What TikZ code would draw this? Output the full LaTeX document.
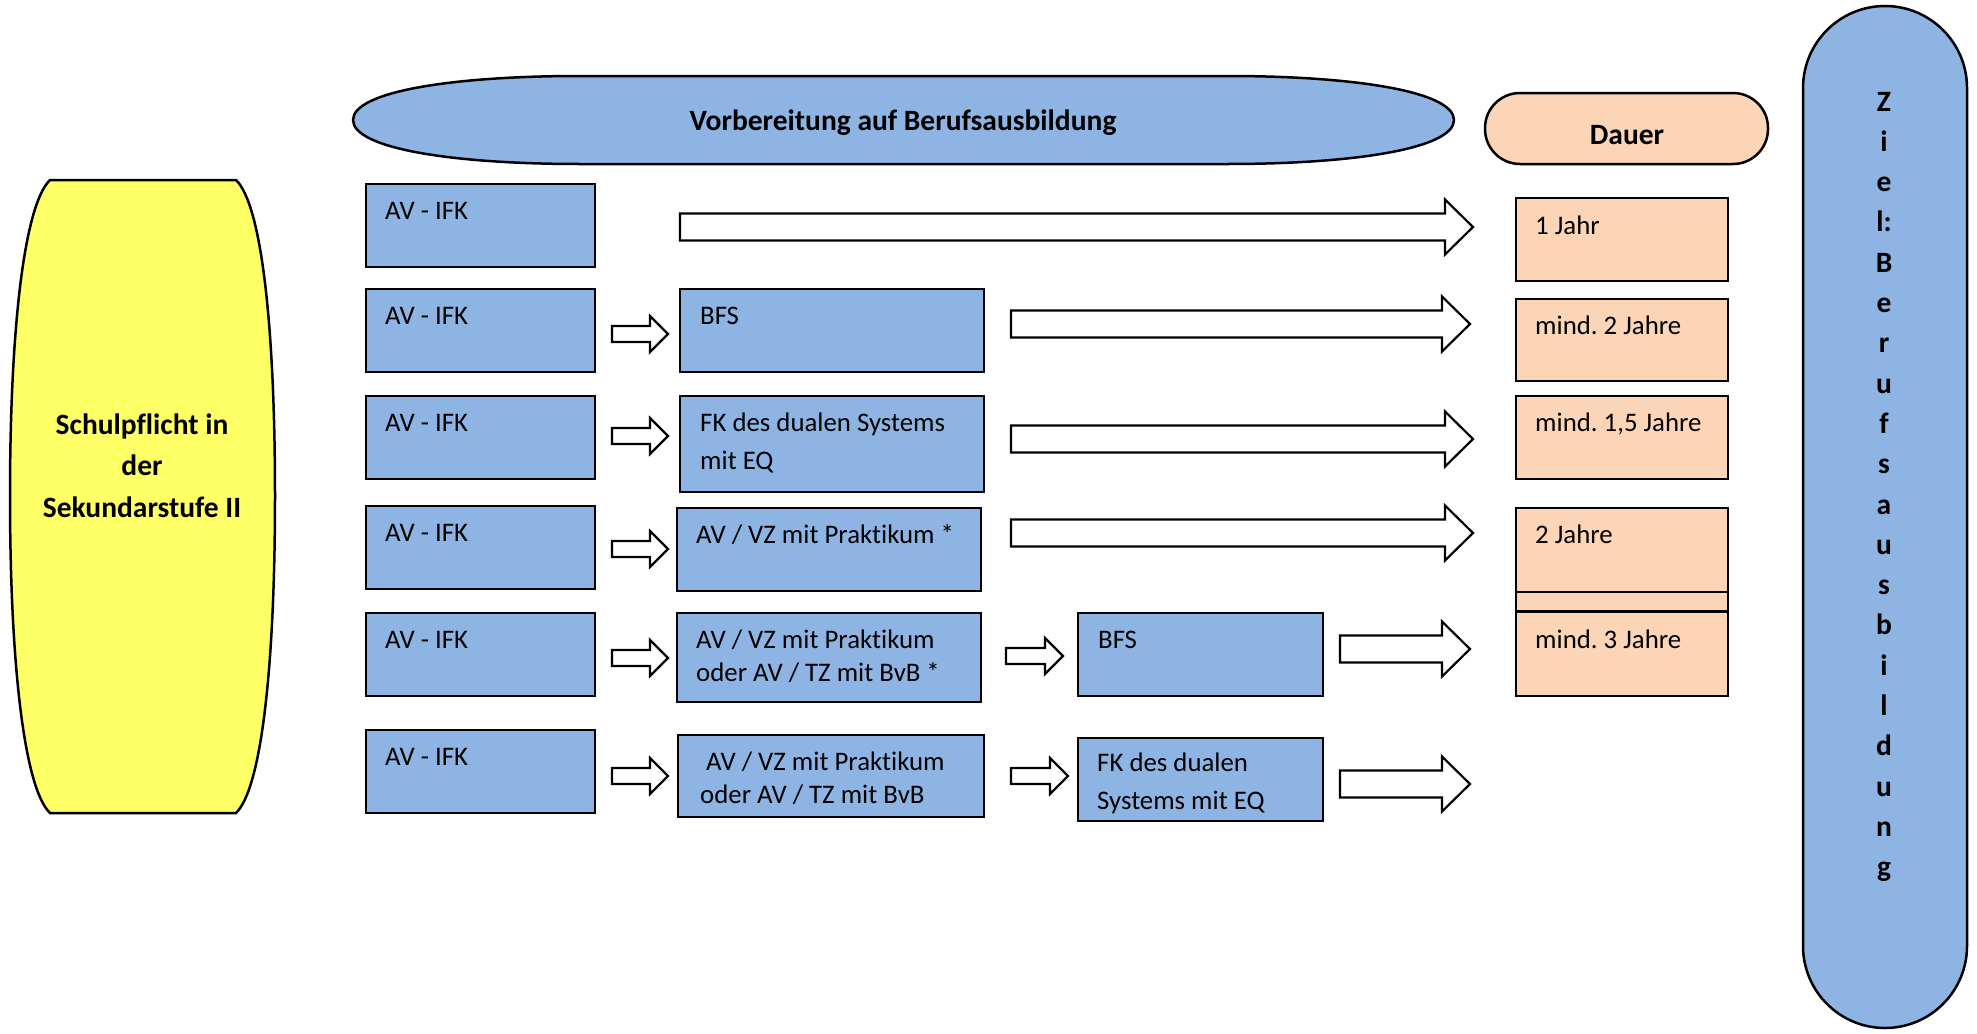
\documentclass[tikz,border=0pt]{standalone}
\usepackage{fontspec}
\setmainfont{Carlito}[Ligatures=NoCommon]
\frenchspacing
\definecolor{boxblue}{HTML}{8EB4E3}
\definecolor{peach}{HTML}{FBD5B5}
\definecolor{yell}{HTML}{FFFF66}
\newcommand\mybox[6]{\node[#6, minimum width={#4-#2}, minimum height={#5-#3}] (#1) at ({(#2+#4)/2},{(#3+#5)/2}) {};}
\newcommand\mytxt[4]{\node[txt] (#1) at ([shift={(#3)}]#2.north west) {#4};}
\newcommand\blkarrow[6]{\draw[blk] (#1,{#3-#4}) -- ({#2-#6},{#3-#4}) -- ({#2-#6},{#3-#5}) -- (#2,#3) -- ({#2-#6},{#3+#5}) -- ({#2-#6},{#3+#4}) -- (#1,{#3+#4}) -- cycle;}
\begin{document}
\begin{tikzpicture}[x=1pt,y=-1pt,
  bluebox/.style={draw=black, line width=2pt, fill=boxblue, inner sep=0pt, rectangle},
  peachbox/.style={draw=black, line width=2pt, fill=peach, inner sep=0pt, rectangle},
  txt/.style={font=\fontsize{26.8}{31}\selectfont, inner sep=0pt, anchor=base west},
  btxt/.style={font=\bfseries\fontsize{29.5}{34}\selectfont, inner sep=0pt, anchor=base},
  blk/.style={draw=black, line width=2.2pt, fill=white, line join=miter},
  outl/.style={draw=black, line width=2.5pt}]
\useasboundingbox (0,0) rectangle (1977,1033);
% left yellow shape
\draw[outl, fill=yell] (50,180) -- (236,180) .. controls (262,205) and (275,330) .. (275,496) .. controls (275,662) and (262,788) .. (236,813) -- (50,813) .. controls (24,788) and (10,662) .. (10,496) .. controls (10,330) and (24,205) .. (50,180) -- cycle;
\coordinate (yc) at (142,496);
\node[btxt] (y1) at (142,434) {Schulpflicht in};
\node[btxt] (y2) at (142,475) {der};
\node[btxt] (y3) at (142,517) {Sekundarstufe II};
% top oval
\draw[outl, fill=boxblue] (353,120) .. controls (353,92) and (450,76) .. (580,76) -- (1227,76) .. controls (1357,76) and (1454,92) .. (1454,120) .. controls (1454,148) and (1357,164) .. (1227,164) -- (580,164) .. controls (450,164) and (353,148) .. (353,120) -- cycle;
\node[btxt] (title) at (903,130) {Vorbereitung auf Berufsausbildung};
% Dauer
\node[outl, fill=peach, rounded corners=35pt, minimum width=283, minimum height=71, inner sep=0pt] (dauer) at (1626.5,128.5) {};
\node[btxt] (dauert) at (1627,144) {Dauer};
% right oval
\node[outl, fill=boxblue, rounded corners=82pt, minimum width=164, minimum height=1022, inner sep=0pt] (ziel) at (1885,517) {};
\foreach \l [count=\i from 0] in {Z,i,e,l:,B,e,r,u,f,s,a,u,s,b,i,l,d,u,n,g}
  \node[btxt] (z\i) at (1884,{111+40.3*\i}) {\l};
% column 1
\mybox{a1}{366}{184}{595}{267}{bluebox}
\mybox{a2}{366}{289}{595}{372}{bluebox}
\mybox{a3}{366}{396}{595}{479}{bluebox}
\mybox{a4}{366}{506}{595}{589}{bluebox}
\mybox{a5}{366}{613}{595}{696}{bluebox}
\mybox{a6}{366}{730}{595}{813}{bluebox}
\foreach \i in {1,...,6} \mytxt{ta\i}{a\i}{20,36}{AV - IFK}
% column 2
\mybox{b2}{680}{289}{984}{372}{bluebox}
\mybox{b3}{680}{396}{984}{492}{bluebox}
\mybox{b4}{677}{508}{981}{591}{bluebox}
\mybox{b5}{677}{613}{981}{702}{bluebox}
\mybox{b6}{678}{735}{984}{817}{bluebox}
\mytxt{tb2}{b2}{21,36}{BFS}
\mytxt{tb3}{b3}{21,36}{FK des dualen Systems}
\mytxt{tb3b}{b3}{21,74}{mit EQ}
\mytxt{tb4}{b4}{20,36}{AV / VZ mit Praktikum *}
\mytxt{tb5}{b5}{20,36}{AV / VZ mit Praktikum}
\mytxt{tb5b}{b5}{20,69}{oder AV / TZ mit BvB *}
\mytxt{tb6}{b6}{29,36}{AV / VZ mit Praktikum}
\mytxt{tb6b}{b6}{23,69}{oder AV / TZ mit BvB}
% column 3
\mybox{c5}{1078}{613}{1323}{696}{bluebox}
\mybox{c6}{1078}{738}{1323}{821}{bluebox}
\mytxt{tc5}{c5}{21,36}{BFS}
\mytxt{tc6}{c6}{20,34}{FK des dualen}
\mytxt{tc6b}{c6}{20,72}{Systems mit EQ}
% Dauer boxes
\mybox{d1}{1516}{198}{1728}{281}{peachbox}
\mybox{d2}{1516}{299}{1728}{381}{peachbox}
\mybox{d3}{1516}{396}{1728}{479}{peachbox}
\mybox{d4}{1516}{508}{1728}{612}{peachbox}
\mybox{d5}{1516}{612}{1728}{696}{peachbox}
\draw[line width=2.5pt] ([yshift=21pt]d4.south west) -- ([yshift=21pt]d4.south east);
\draw[line width=3pt] (d5.north west) -- (d5.north east);
\mytxt{td1}{d1}{20,37}{1 Jahr}
\mytxt{td2}{d2}{20,36}{mind. 2 Jahre}
\mytxt{td3}{d3}{20,36}{mind. 1,5 Jahre}
\mytxt{td4}{d4}{20,36}{2 Jahre}
\mytxt{td5}{d5}{20,37}{mind. 3 Jahre}
% block arrows
\blkarrow{680}{1473}{227}{13.5}{27.5}{28}
\blkarrow{612}{668}{334}{8}{18}{18}
\blkarrow{1011}{1470}{324}{13.5}{27.5}{28}
\blkarrow{612}{668}{436}{8}{18}{18}
\blkarrow{1011}{1473}{439}{13.5}{27.5}{28}
\blkarrow{612}{668}{549}{8}{18}{18}
\blkarrow{1011}{1473}{533}{13.5}{27.5}{28}
\blkarrow{612}{668}{658}{8}{18}{18}
\blkarrow{1006}{1063}{656}{8}{18}{18}
\blkarrow{1340}{1470}{649}{13.5}{27.5}{28}
\blkarrow{612}{668}{776}{8}{18}{18}
\blkarrow{1011}{1068}{776}{8}{18}{18}
\blkarrow{1340}{1470}{784}{13.5}{27.5}{28}
\end{tikzpicture}
\end{document}
